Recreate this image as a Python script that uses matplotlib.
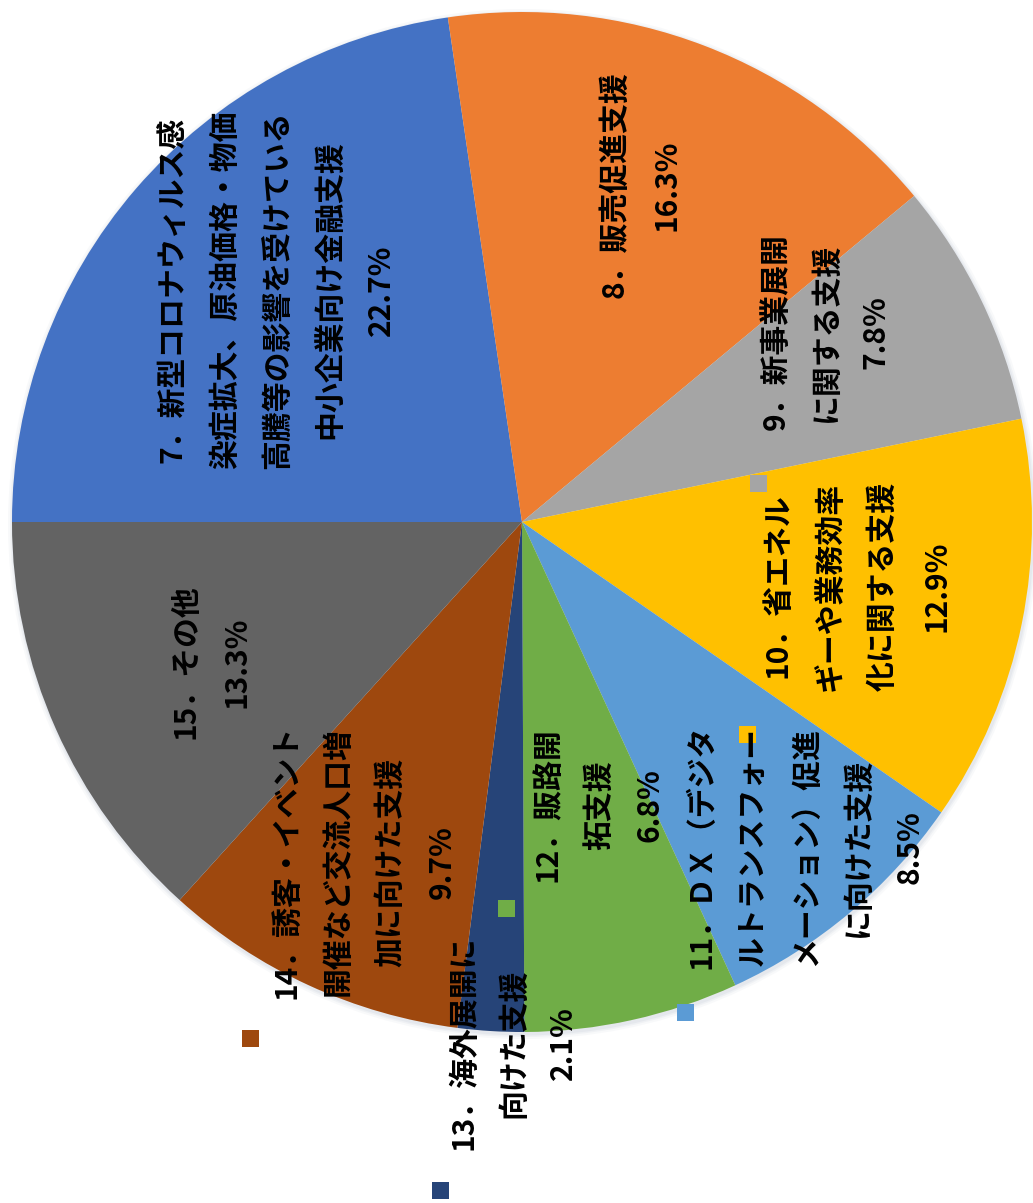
import matplotlib
matplotlib.use("Agg")
import matplotlib.pyplot as plt
from matplotlib.patches import Rectangle, Circle

plt.rcParams['font.family'] = ['Noto Sans CJK JP', 'DejaVu Sans']

# ---- data ----
categories = [
    "7．新型コロナウィルス感染症拡大、原油価格・物価高騰等の影響を受けている中小企業向け金融支援",
    "8．販売促進支援",
    "9．新事業展開に関する支援",
    "10．省エネルギーや業務効率化に関する支援",
    "11．ＤＸ（デジタルトランスフォーメーション）促進に向けた支援",
    "12．販路開拓支援",
    "13．海外展開に向けた支援",
    "14．誘客・イベント開催など交流人口増加に向けた支援",
    "15．その他",
]
values = [22.7, 16.3, 7.8, 12.9, 8.5, 6.8, 2.1, 9.7, 13.3]
label_lines = [
    ["7．新型コロナウィルス感", "染症拡大、原油価格・物価", "高騰等の影響を受けている", "中小企業向け金融支援"],
    ["8．販売促進支援"],
    ["9．新事業展開", "に関する支援"],
    ["10．省エネル", "ギーや業務効率", "化に関する支援"],
    ["11．ＤＸ（デジタ", "ルトランスフォー", "メーション）促進", "に向けた支援"],
    ["12．販路開", "拓支援"],
    ["13．海外展開に", "向けた支援"],
    ["14．誘客・イベント", "開催など交流人口増", "加に向けた支援"],
    ["15．その他"],
]
pct_labels = ["22.7%", "16.3%", "7.8%", "12.9%", "8.5%", "6.8%", "2.1%", "9.7%", "13.3%"]
colors = ["#4472C4", "#ED7D31", "#A5A5A5", "#FFC000", "#5B9BD5",
          "#70AD47", "#264478", "#9E480E", "#636363"]

# ---- layout (pixel coordinates, y measured from top) ----
W, H = 1033, 1203
cx, cy, R = 522, 522, 510
# first-line x, block center y, line step
label_pos = [
    (173, 290, 52),
    (615, 185, 51),
    (776, 332, 50),
    (777, 586, 53),
    (702, 847, 52),
    (548, 805, 51),
    (463, 1043, 50),
    (286, 862, 52),
    (186, 662, 50),
]
key_pos = [
    (150, 505), (595, 335), (758, 483), (747, 734), (685, 1012),
    (506, 908), (440, 1190), (250, 1038), (165, 760),
]
key_size = 17

fig = plt.figure(figsize=(W / 100, H / 100), dpi=100)
ax = fig.add_axes([0, 0, 1, 1])

def Y(y):
    return H - y

# faint soft shadow
for dr, a in [(5, 0.12), (3, 0.18), (1.5, 0.25)]:
    ax.add_patch(Circle((cx + 1, Y(cy) - 2), R + dr, facecolor="#c9d0da", edgecolor="none",
                        alpha=a, zorder=0))

ax.pie(values, colors=colors, startangle=180, counterclock=False,
       center=(cx, Y(cy)), radius=R,
       wedgeprops=dict(edgecolor="none", linewidth=0), frame=False)

for lines, pct, (x0, yc, step), (kx, ky), col in zip(label_lines, pct_labels, label_pos,
                                                     key_pos, colors):
    all_lines = lines + [pct]
    for i, ln in enumerate(all_lines):
        ax.text(x0 + i * step, Y(yc), ln, rotation=90, ha="center", va="center",
                rotation_mode="anchor", fontsize=21.5, fontweight="bold", color="black",
                zorder=5)
    ax.add_patch(Rectangle((kx - key_size / 2, Y(ky) - key_size / 2), key_size, key_size,
                           facecolor=col, edgecolor="none", zorder=4))

ax.set_xlim(0, W)
ax.set_ylim(0, H)
ax.set_aspect("equal")
ax.axis("off")
fig.savefig("out.png", dpi=100, facecolor="white")
